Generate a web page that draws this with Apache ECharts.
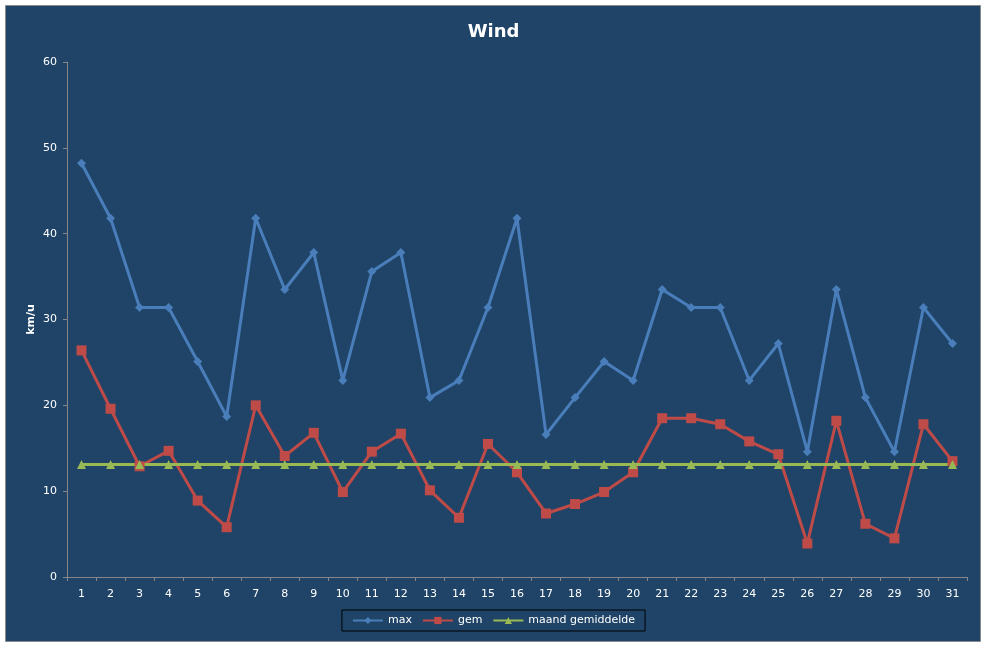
<!DOCTYPE html>
<html>
<head>
<meta charset="utf-8">
<title>Wind</title>
<script src="https://cdn.jsdelivr.net/npm/echarts@6/dist/echarts.min.js"></script>
<style>
    html, body { margin: 0; padding: 0; background: #fff; }
    #main { width: 987px; height: 648px; }
</style>
</head>
<body>
<div id="main"></div>
<script>
// dagen van de maand
var days = []
for (var d = 1; d <= 31; d++) days.push(String(d))

// waarden (km/u)
var maxWind = [48.2, 41.8, 31.4, 31.4, 25.1, 18.7, 41.8, 33.5, 37.8, 22.9,
    35.6, 37.8, 20.9, 22.9, 31.4, 41.8, 16.6, 20.9, 25.1, 22.9,
    33.5, 31.4, 31.4, 22.9, 27.2, 14.6, 33.5, 20.9, 14.6, 31.4, 27.2]
var gemWind = [26.4, 19.6, 12.9, 14.7, 8.9, 5.8, 20.0, 14.1, 16.8, 9.9,
    14.6, 16.7, 10.1, 6.9, 15.5, 12.2, 7.4, 8.5, 9.9, 12.2,
    18.5, 18.5, 17.8, 15.8, 14.3, 3.9, 18.2, 6.2, 4.5, 17.8, 13.5]
var maandGem = []
for (var i = 0; i < 31; i++) maandGem.push(13.1)

var seriesNames = ['max', 'gem', 'maand gemiddelde']
var yTicks = { min: 0, max: 60, interval: 10 }

var font = 'DejaVu Sans'
var myChart = echarts.init(document.getElementById('main'))
var option = {
    backgroundColor: '#ffffff',
    animation: false,
    graphic: [{
        type: 'rect',
        z: -10,
        silent: true,
        shape: { x: 5.5, y: 5.5, width: 975, height: 636 },
        style: { fill: '#1f4467', stroke: '#8a8a8a', lineWidth: 1 }
    }],
    title: {
        text: 'Wind',
        left: 'center',
        top: 18,
        textStyle: { color: '#ffffff', fontFamily: font, fontSize: 18, fontWeight: 'bold' }
    },
    legend: {
        data: seriesNames,
        left: 'center',
        top: 610,
        padding: [5, 10, 5, 10],
        itemGap: 10,
        itemWidth: 30,
        itemHeight: 9,
        borderColor: '#000000',
        borderWidth: 1,
        borderRadius: 0,
        textStyle: { color: '#ffffff', fontFamily: font, fontSize: 11 }
    },
    grid: { left: 67, right: 20, top: 62, bottom: 71, containLabel: false },
    xAxis: {
        type: 'category',
        data: days,
        boundaryGap: true,
        axisLine: { lineStyle: { color: '#868686', width: 1 } },
        axisTick: { show: true, length: 4, inside: false, alignWithLabel: false, lineStyle: { color: '#868686' } },
        axisLabel: { color: '#ffffff', fontFamily: font, fontSize: 11, margin: 12, interval: 0 },
        splitLine: { show: false }
    },
    yAxis: {
        type: 'value',
        min: yTicks.min,
        max: yTicks.max,
        interval: yTicks.interval,
        name: 'km/u',
        nameLocation: 'middle',
        nameGap: 30,
        nameMoveOverlap: false,
        nameRotate: 90,
        nameTextStyle: { color: '#ffffff', fontFamily: font, fontSize: 11, fontWeight: 'bold' },
        axisLine: { show: true, lineStyle: { color: '#868686', width: 1 } },
        axisTick: { show: true, length: 4, lineStyle: { color: '#868686' } },
        axisLabel: { color: '#ffffff', fontFamily: font, fontSize: 11, margin: 10 },
        splitLine: { show: false }
    },
    series: [
        {
            name: seriesNames[0],
            type: 'line',
            data: maxWind,
            symbol: 'diamond',
            symbolSize: 9,
            lineStyle: { color: '#4a7ebb', width: 3 },
            itemStyle: { color: '#4a7ebb' }
        },
        {
            name: seriesNames[1],
            type: 'line',
            data: gemWind,
            symbol: 'rect',
            symbolSize: 10,
            lineStyle: { color: '#be4b48', width: 3 },
            itemStyle: { color: '#be4b48' }
        },
        {
            name: seriesNames[2],
            type: 'line',
            data: maandGem,
            symbol: 'triangle',
            symbolSize: 9,
            lineStyle: { color: '#98b954', width: 3 },
            itemStyle: { color: '#98b954' }
        }
    ]
}
myChart.setOption(option)
</script>
</body>
</html>
